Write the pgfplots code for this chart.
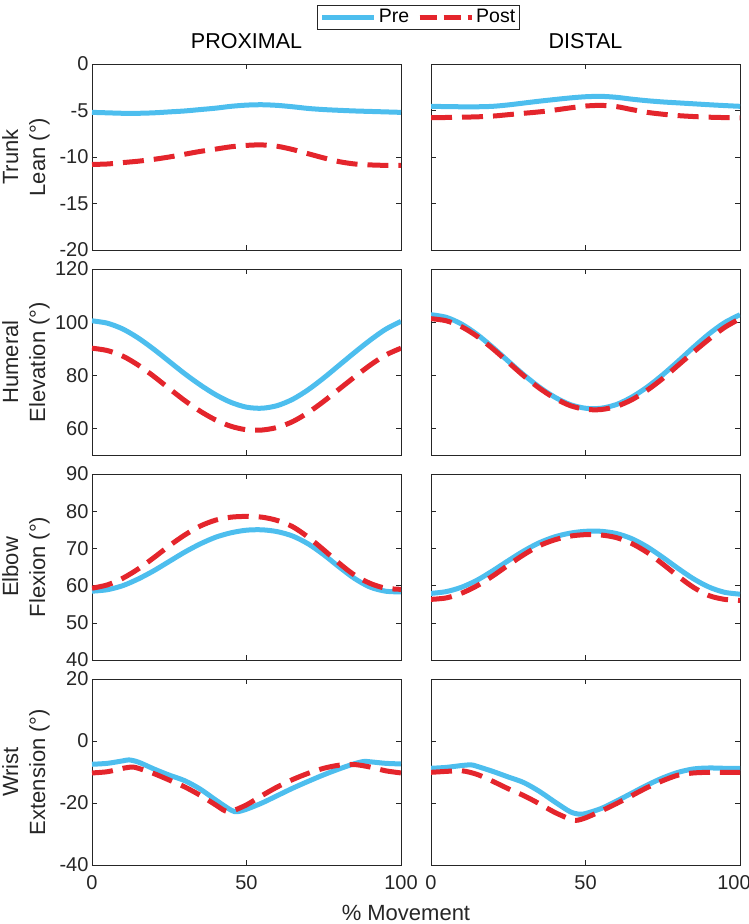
\documentclass[border=0pt]{standalone}
\usepackage{fontspec}
\setmainfont{Liberation Sans}
\usepackage{pgfplots}
\pgfplotsset{compat=1.18}
\definecolor{preblue}{RGB}{77,190,238}
\definecolor{postred}{RGB}{228,37,44}
\definecolor{axgray}{RGB}{38,38,38}
\pgfplotsset{
  panel/.style={
    scale only axis, width=309pt, height=186pt,
    xmin=0, xmax=100, xtick={0,50,100},
    tick align=inside, major tick length=5pt,
    axis line style={axgray, line width=0.6pt},
    tick style={axgray, line width=0.6pt},
    tick label style={font=\fontsize{20}{23}\selectfont, text=axgray},
    /pgf/number format/assume math mode=true,
    label style={font=\fontsize{22}{27}\selectfont, text=axgray},
    title style={font=\fontsize{21.5}{26}\selectfont, text=black, at={(0.5,1)}, anchor=base, yshift=10pt},
    ylabel style={at={(axis description cs:-0.136,0.5)}, anchor=south, align=center, inner sep=0pt},
    xticklabel style={yshift=-7pt},
    anchor=north west,
  },
  pre/.style={preblue, line width=5pt, smooth},
  post/.style={postred, line width=5pt, dash pattern=on 21pt off 10pt, smooth},
}
\begin{document}
\begin{tikzpicture}
\useasboundingbox (0,0) rectangle (749pt,-924pt);
% ---------- Row 1: Trunk Lean ----------
\begin{axis}[panel, at={(92pt,-64pt)}, ymin=-20, ymax=0, ytick={-20,-15,-10,-5,0}, xticklabels={},
  title={PROXIMAL}, ylabel={Trunk\\Lean (°)},
  legend columns=2,
  legend style={at={(axis description cs:1.0566,1.2527)}, anchor=center, draw=axgray, line width=0.6pt,
    font=\fontsize{19.5}{22}\selectfont, inner sep=2.5pt,
    /tikz/every even column/.append style={column sep=6pt}},
  legend image code/.code={\draw[#1] (0pt,0pt) -- (52pt,0pt);},
  legend cell align=left]
\addplot[pre] coordinates {(0,-5.2)(5,-5.25)(10,-5.3)(15,-5.3)(20,-5.25)(25,-5.15)(30,-5.05)(35,-4.9)(40,-4.75)(45,-4.55)(50,-4.42)(55,-4.38)(60,-4.45)(65,-4.6)(70,-4.78)(75,-4.9)(80,-4.98)(85,-5.05)(90,-5.1)(95,-5.15)(100,-5.2)};
\addlegendentry{Pre}
\addplot[post, legend image post style={dash pattern=on 17pt off 7pt}] coordinates {(0,-10.8)(5,-10.75)(10,-10.6)(15,-10.45)(20,-10.25)(25,-10.0)(30,-9.7)(35,-9.4)(40,-9.15)(45,-8.9)(50,-8.75)(55,-8.7)(60,-8.85)(65,-9.2)(70,-9.65)(75,-10.1)(80,-10.5)(85,-10.75)(90,-10.85)(95,-10.9)(100,-10.9)};
\addlegendentry{Post}
\end{axis}
\begin{axis}[panel, at={(431pt,-64pt)}, ymin=-20, ymax=0, ytick={-20,-15,-10,-5,0}, xticklabels={}, yticklabels={},
  title={DISTAL}]
\addplot[pre] coordinates {(0,-4.55)(5,-4.58)(10,-4.6)(15,-4.6)(20,-4.55)(25,-4.4)(30,-4.2)(35,-4.0)(40,-3.82)(45,-3.65)(50,-3.52)(55,-3.48)(60,-3.58)(65,-3.78)(70,-3.95)(75,-4.08)(80,-4.18)(85,-4.28)(90,-4.38)(95,-4.47)(100,-4.55)};
\addplot[post] coordinates {(0,-5.78)(5,-5.75)(10,-5.72)(15,-5.68)(20,-5.6)(25,-5.45)(30,-5.3)(35,-5.15)(40,-4.95)(45,-4.72)(50,-4.52)(55,-4.45)(60,-4.58)(65,-4.9)(70,-5.2)(75,-5.4)(80,-5.55)(85,-5.65)(90,-5.72)(95,-5.76)(100,-5.78)};
\end{axis}
% ---------- Row 2: Humeral Elevation ----------
\begin{axis}[panel, at={(92pt,-269pt)}, ymin=50, ymax=120, ytick={60,80,100,120}, xticklabels={},
  ylabel={Humeral\\Elevation (°)}]
\addplot[pre] coordinates {(0,100.5)(5,99.6)(10,97.4)(15,94.0)(20,89.8)(25,85.2)(30,80.6)(35,76.4)(40,72.7)(45,69.8)(50,68.0)(55,67.6)(60,68.6)(65,71.0)(70,74.6)(75,79.0)(80,83.8)(85,88.6)(90,93.2)(95,97.3)(100,100.3)};
\addplot[post] coordinates {(0,90.2)(5,89.3)(10,87.2)(15,83.8)(20,79.6)(25,75.0)(30,70.5)(35,66.5)(40,63.2)(45,60.8)(50,59.5)(55,59.4)(60,60.4)(65,62.6)(70,66.0)(75,70.2)(80,74.8)(85,79.4)(90,83.8)(95,87.6)(100,90.2)};
\end{axis}
\begin{axis}[panel, at={(431pt,-269pt)}, ymin=50, ymax=120, ytick={60,80,100,120}, xticklabels={}, yticklabels={}]
\addplot[pre] coordinates {(0,102.8)(5,101.8)(10,99.2)(15,95.3)(20,90.5)(25,85.3)(30,80.2)(35,75.6)(40,71.8)(45,69.0)(50,67.6)(55,67.6)(60,69.0)(65,71.8)(70,75.6)(75,80.2)(80,85.3)(85,90.6)(90,95.6)(95,99.8)(100,102.8)};
\addplot[post] coordinates {(0,101.3)(5,100.5)(10,98.2)(15,94.6)(20,90.0)(25,84.9)(30,79.8)(35,75.2)(40,71.4)(45,68.6)(50,67.2)(55,67.1)(60,68.3)(65,70.8)(70,74.4)(75,78.8)(80,83.8)(85,88.8)(90,93.6)(95,98.0)(100,101.3)};
\end{axis}
% ---------- Row 3: Elbow Flexion ----------
\begin{axis}[panel, at={(92pt,-474pt)}, ymin=40, ymax=90, ytick={40,50,60,70,80,90}, xticklabels={},
  ylabel={Elbow\\Flexion (°)}]
\addplot[pre] coordinates {(0,58.5)(5,58.9)(10,60.0)(15,61.8)(20,64.0)(25,66.5)(30,69.0)(35,71.2)(40,73.0)(45,74.2)(50,74.9)(55,75.0)(60,74.5)(65,73.3)(70,71.2)(75,68.3)(80,65.0)(85,61.9)(90,59.6)(95,58.5)(100,58.3)};
\addplot[post] coordinates {(0,59.3)(5,60.2)(10,62.0)(15,64.5)(20,67.5)(25,70.7)(30,73.6)(35,76.0)(40,77.6)(45,78.4)(50,78.6)(55,78.4)(60,77.5)(65,75.8)(70,73.0)(75,69.6)(80,66.0)(85,62.8)(90,60.6)(95,59.3)(100,59.0)};
\end{axis}
\begin{axis}[panel, at={(431pt,-474pt)}, ymin=40, ymax=90, ytick={40,50,60,70,80,90}, xticklabels={}, yticklabels={}]
\addplot[pre] coordinates {(0,57.9)(5,58.4)(10,59.6)(15,61.5)(20,64.0)(25,66.7)(30,69.3)(35,71.5)(40,73.1)(45,74.1)(50,74.6)(55,74.6)(60,74.0)(65,72.6)(70,70.4)(75,67.6)(80,64.6)(85,61.8)(90,59.6)(95,58.2)(100,57.7)};
\addplot[post] coordinates {(0,56.3)(5,56.7)(10,58.0)(15,60.0)(20,62.6)(25,65.5)(30,68.3)(35,70.7)(40,72.3)(45,73.3)(50,73.7)(55,73.6)(60,72.9)(65,71.3)(70,68.9)(75,65.8)(80,62.5)(85,59.5)(90,57.3)(95,56.3)(100,56.0)};
\end{axis}
% ---------- Row 4: Wrist Extension ----------
\begin{axis}[panel, at={(92pt,-679pt)}, ymin=-40, ymax=20, ytick={-40,-20,0,20},
  ylabel={Wrist\\Extension (°)},
  xlabel={\% Movement}, xlabel style={at={(axis description cs:1.016,0)}, anchor=base, yshift=-55pt}]
\addplot[pre] coordinates {(0,-7.5)(5,-7.2)(10,-6.4)(12,-6.1)(15,-6.8)(20,-9.0)(25,-11.0)(30,-12.8)(35,-15.5)(40,-19.0)(45,-22.3)(47,-22.8)(50,-22.0)(55,-20.0)(60,-17.6)(65,-15.2)(70,-13.0)(75,-10.9)(80,-9.0)(85,-7.3)(88,-6.6)(90,-6.7)(95,-7.2)(100,-7.4)};
\addplot[post] coordinates {(0,-10.3)(5,-9.9)(10,-8.8)(13,-8.4)(15,-8.8)(20,-10.5)(25,-12.6)(30,-14.8)(35,-17.5)(40,-20.6)(43,-22.5)(45,-22.7)(50,-20.6)(55,-17.6)(60,-14.8)(65,-12.4)(70,-10.4)(75,-8.8)(80,-7.8)(85,-7.6)(90,-8.4)(95,-9.6)(100,-10.3)};
\end{axis}
\begin{axis}[panel, at={(431pt,-679pt)}, ymin=-40, ymax=20, ytick={-40,-20,0,20}, yticklabels={},
  xticklabels={0,50,{\hspace*{-12pt}100}}]
\addplot[pre] coordinates {(0,-8.8)(5,-8.5)(10,-7.9)(13,-7.7)(15,-8.2)(20,-9.8)(25,-11.6)(30,-13.4)(35,-16.2)(40,-19.6)(45,-22.8)(48,-23.6)(50,-23.4)(55,-21.8)(60,-19.4)(65,-16.8)(70,-14.2)(75,-11.9)(80,-10.1)(85,-9.0)(90,-8.7)(95,-8.8)(100,-8.8)};
\addplot[post] coordinates {(0,-10.1)(5,-9.8)(10,-9.6)(15,-10.8)(20,-13.0)(25,-15.4)(30,-17.6)(35,-20.2)(40,-23.0)(45,-25.2)(47,-25.6)(50,-24.8)(55,-22.6)(60,-20.2)(65,-17.6)(70,-15.0)(75,-12.8)(80,-11.0)(85,-10.3)(90,-10.1)(95,-10.1)(100,-10.1)};
\end{axis}
\end{tikzpicture}
\end{document}
